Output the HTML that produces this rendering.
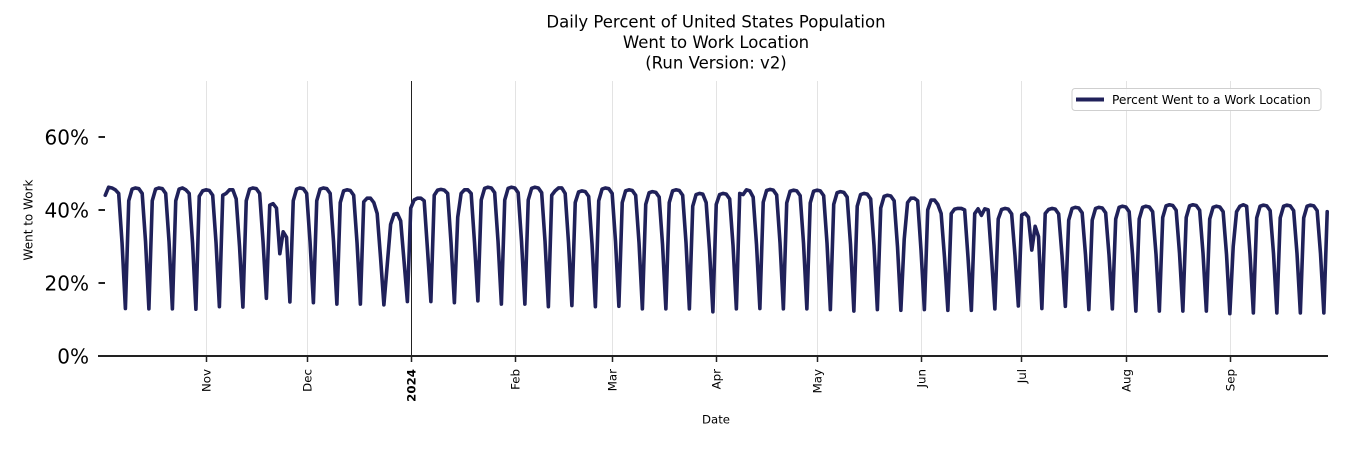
<!DOCTYPE html>
<html>
<head>
<meta charset="utf-8">
<style>
html,body{margin:0;padding:0;background:#fff;}
svg{display:block;}
text{font-family:"DejaVu Sans","Liberation Sans",sans-serif;fill:#000;}
</style>
</head>
<body>
<svg width="1350" height="450" viewBox="0 0 1350 450" xmlns="http://www.w3.org/2000/svg">
<rect width="1350" height="450" fill="#fff"/>
<!-- title -->
<text x="716" y="27.5" font-size="16.5" text-anchor="middle">Daily Percent of United States Population</text>
<text x="716" y="48" font-size="16.5" text-anchor="middle">Went to Work Location</text>
<text x="716" y="68.5" font-size="16.5" text-anchor="middle">(Run Version: v2)</text>

<!-- gridlines -->
<g stroke="#e3e3e3" stroke-width="1">
<line x1="206.5" y1="81" x2="206.5" y2="356"/>
<line x1="307.5" y1="81" x2="307.5" y2="356"/>
<line x1="515.5" y1="81" x2="515.5" y2="356"/>
<line x1="612.5" y1="81" x2="612.5" y2="356"/>
<line x1="716.5" y1="81" x2="716.5" y2="356"/>
<line x1="817.5" y1="81" x2="817.5" y2="356"/>
<line x1="921.5" y1="81" x2="921.5" y2="356"/>
<line x1="1021.5" y1="81" x2="1021.5" y2="356"/>
<line x1="1126.5" y1="81" x2="1126.5" y2="356"/>
<line x1="1230.5" y1="81" x2="1230.5" y2="356"/>
</g>
<line x1="411.5" y1="81" x2="411.5" y2="356" stroke="#222" stroke-width="1"/>

<!-- data -->
<polyline transform="translate(101.9 356) scale(3.357 -3.653)" vector-effect="non-scaling-stroke" fill="none" stroke="#20215a" stroke-width="3.6" stroke-linejoin="round" stroke-linecap="round"
points="1,44 2,46.2 3,46 4,45.5 5,44.5 6,31 7,13 8,42.5 9,45.7 10,46 11,45.8 12,44.5 13,31.3 14,12.9 15,42.5 16,45.7 17,46 18,45.8 19,44.5 20,31.3 21,12.9 22,42.5 23,45.7 24,46 25,45.5 26,44.5 27,31 28,12.8 29,43.7 30,45.2 31,45.5 32,45.3 33,44 34,31 35,13.5 36,44 37,44.5 38,45.5 39,45.5 40,43 41,30 42,13.4 43,42.5 44,45.7 45,46 46,45.8 47,44.5 48,31.3 49,15.8 50,41.3 51,41.7 52,40.5 53,28 54,34 55,32.5 56,14.8 57,42.5 58,45.7 59,46 60,45.8 61,44.5 62,31.3 63,14.6 64,42.5 65,45.7 66,46 67,45.8 68,44.5 69,31.3 70,14.2 71,42 72,45.2 73,45.5 74,45.3 75,44 76,31 77,14.2 78,42.2 79,43.2 80,43.2 81,42 82,39 83,27 84,14 85,25 86,36 87,38.8 88,39 89,37 90,26 91,14.9 92,40.5 93,42.7 94,43.2 95,43.2 96,42.5 97,29 98,14.9 99,44 100,45.4 101,45.6 102,45.4 103,44.5 104,31 105,14.6 106,38 107,44.5 108,45.5 109,45.5 110,44.5 111,31 112,15.1 113,42.7 114,45.9 115,46.2 116,46 117,44.7 118,31.4 119,14.2 120,42.7 121,45.9 122,46.2 123,46 124,44.7 125,31.4 126,14.2 127,42.7 128,45.9 129,46.2 130,46 131,44.7 132,31.4 133,13.5 134,44 135,45.2 136,46 137,46 138,44.5 139,31 140,13.8 141,42 142,44.9 143,45.2 144,45 145,43.7 146,30.7 147,13.5 148,42.5 149,45.7 150,46 151,45.8 152,44.5 153,31.3 154,13.6 155,42 156,45.2 157,45.5 158,45.3 159,44 160,31 161,12.9 162,41.5 163,44.7 164,45 165,44.8 166,43.5 167,30.6 168,12.9 169,42 170,45.2 171,45.5 172,45.3 173,44 174,31 175,12.9 176,41 177,44.2 178,44.5 179,44.3 180,42 181,29 182,12.1 183,41.5 184,44.2 185,44.5 186,44.3 187,43 188,30.3 189,12.9 190,44.5 191,44.2 192,45.5 193,45.2 194,43.5 195,30.5 196,13 197,42.1 198,45.3 199,45.6 200,45.4 201,44.1 202,31 203,12.9 204,41.9 205,45.1 206,45.4 207,45.2 208,43.9 209,30.9 210,12.9 211,41.9 212,45.1 213,45.4 214,45.2 215,43.9 216,30.9 217,12.7 218,41.5 219,44.7 220,45 221,44.8 222,43.5 223,30.6 224,12.3 225,41 226,44.2 227,44.5 228,44.3 229,43 230,30.3 231,12.7 232,40.5 233,43.7 234,44 235,43.8 236,42.5 237,29.9 238,12.5 239,32 240,42 241,43.2 242,43.2 243,42.5 244,29 245,12.7 246,40 247,42.7 248,42.7 249,41.5 250,39 251,27 252,12.5 253,39 254,40.2 255,40.4 256,40.4 257,40 258,27 259,12.5 260,39 261,40.3 262,38.5 263,40.3 264,40 265,27 266,12.9 267,37.5 268,40.1 269,40.4 270,40.2 271,38.9 272,27.5 273,13.7 274,38.6 275,39.1 276,38 277,29 278,35.5 279,32.7 280,13 281,39 282,40.1 283,40.4 284,40.2 285,38.9 286,27.5 287,13.6 288,37.2 289,40.4 290,40.7 291,40.5 292,39.2 293,27.7 294,12.7 295,37.2 296,40.4 297,40.7 298,40.5 299,39.2 300,27.7 301,12.9 302,37.5 303,40.7 304,41 305,40.8 306,39.5 307,27.9 308,12.3 309,37.5 310,40.7 311,41 312,40.8 313,39.5 314,27.9 315,12.3 316,37.9 317,41.1 318,41.4 319,41.2 320,39.9 321,28.2 322,12.3 323,37.9 324,41.1 325,41.4 326,41.2 327,39.9 328,28.2 329,12.3 330,37.5 331,40.7 332,41 333,40.8 334,39.5 335,27.9 336,11.6 337,30 338,39.5 339,41 340,41.4 341,41 342,28 343,11.8 344,37.8 345,41 346,41.3 347,41.1 348,39.8 349,28.1 350,11.8 351,37.8 352,41 353,41.3 354,41.1 355,39.8 356,28.1 357,11.8 358,37.8 359,41 360,41.3 361,41.1 362,39.8 363,28.1 364,11.8 365,39.5"/>

<!-- bottom spine -->
<line x1="98" y1="356" x2="1328" y2="356" stroke="#222" stroke-width="2"/>

<!-- y ticks -->
<g stroke="#222" stroke-width="2">
<line x1="98.5" y1="137" x2="105" y2="137"/>
<line x1="98.5" y1="210" x2="105" y2="210"/>
<line x1="98.5" y1="283" x2="105" y2="283"/>
</g>
<g font-size="20" text-anchor="end">
<text x="89" y="144.3">60%</text>
<text x="89" y="217.3">40%</text>
<text x="89" y="290.3">20%</text>
<text x="89" y="363.3">0%</text>
</g>
<text transform="translate(32.5 220) rotate(-90)" font-size="12" text-anchor="middle">Went to Work</text>

<!-- x ticks -->
<g stroke="#222" stroke-width="1.5">
<line x1="206.5" y1="356" x2="206.5" y2="362"/>
<line x1="307.5" y1="356" x2="307.5" y2="362"/>
<line x1="411.5" y1="356" x2="411.5" y2="362"/>
<line x1="515.5" y1="356" x2="515.5" y2="362"/>
<line x1="612.5" y1="356" x2="612.5" y2="362"/>
<line x1="716.5" y1="356" x2="716.5" y2="362"/>
<line x1="817.5" y1="356" x2="817.5" y2="362"/>
<line x1="921.5" y1="356" x2="921.5" y2="362"/>
<line x1="1021.5" y1="356" x2="1021.5" y2="362"/>
<line x1="1126.5" y1="356" x2="1126.5" y2="362"/>
<line x1="1230.5" y1="356" x2="1230.5" y2="362"/>
</g>
<g font-size="11.8" text-anchor="end">
<text transform="translate(210.5 369) rotate(-90)">Nov</text>
<text transform="translate(311.5 369) rotate(-90)">Dec</text>
<text transform="translate(415.5 369) rotate(-90)" font-weight="bold">2024</text>
<text transform="translate(519.5 369) rotate(-90)">Feb</text>
<text transform="translate(616.5 369) rotate(-90)">Mar</text>
<text transform="translate(720.5 369) rotate(-90)">Apr</text>
<text transform="translate(821.5 369) rotate(-90)">May</text>
<text transform="translate(925.5 369) rotate(-90)">Jun</text>
<text transform="translate(1025.8 369) rotate(-90)">Jul</text>
<text transform="translate(1130.5 369) rotate(-90)">Aug</text>
<text transform="translate(1234.5 369) rotate(-90)">Sep</text>
</g>
<text x="716" y="423.3" font-size="11.7" text-anchor="middle">Date</text>

<!-- legend -->
<rect x="1072" y="88.5" width="249" height="22" rx="3" fill="#fff" fill-opacity="0.8" stroke="#cfcfcf" stroke-width="1"/>
<line x1="1076" y1="99.5" x2="1104" y2="99.5" stroke="#20215a" stroke-width="4"/>
<text x="1112" y="103.8" font-size="12.2">Percent Went to a Work Location</text>
</svg>
</body>
</html>
